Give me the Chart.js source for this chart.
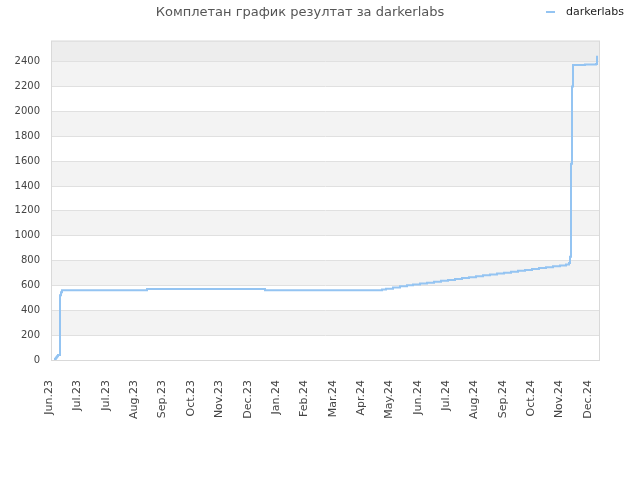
<!DOCTYPE html>
<html>
<head>
<meta charset="utf-8">
<script src="https://cdn.jsdelivr.net/npm/chart.js@4"></script>
<style>
  html, body { margin: 0; padding: 0; background: #fff; }
  #wrap { width: 640px; height: 480px; position: relative; }
</style>
</head>
<body>
<div id="wrap"><canvas id="chart"></canvas></div>
<script>
// naslov i serija
const TITLE = 'Комплетан график резултат за darkerlabs';
const SERIES = 'darkerlabs';

// x = dan od početka perioda, y = rezultat
const days = [3, 4, 5, 6, 7, 9, 10, 11, 96, 214,
  331, 335, 342, 349, 356, 362, 369, 376, 383, 390, 397, 404, 411, 418, 425,
  432, 439, 446, 453, 460, 467, 474, 481, 488, 495, 502, 509, 515,
  518, 519, 520, 521, 522, 534, 545, 546];
const scores = [0, 10, 20, 30, 40, 520, 545, 562, 571, 562,
  567, 574, 584, 594, 601, 608, 615, 622, 630, 637, 644, 652, 659, 666, 674,
  681, 688, 696, 703, 711, 718, 725, 732, 740, 747, 754, 761, 768,
  780, 830, 1580, 2200, 2373, 2377, 2382, 2448];

// oznake na x osi
const xTickDays = [-2, 26, 55, 83, 111, 140, 168, 197, 225, 253, 282, 310, 338, 367, 395, 423, 452, 480, 508, 537];
const xTickLabels = ['Jun.23', 'Jul.23', 'Jul.23', 'Aug.23', 'Sep.23', 'Oct.23', 'Nov.23', 'Dec.23',
  'Jan.24', 'Feb.24', 'Mar.24', 'Apr.24', 'May.24', 'Jun.24', 'Jul.24', 'Aug.24', 'Sep.24',
  'Oct.24', 'Nov.24', 'Dec.24'];
const X_MAX = 549;

// y osa
const yTicks = [0, 200, 400, 600, 800, 1000, 1200, 1400, 1600, 1800, 2000, 2200, 2400];
const Y_MAX = 2570;

const LINE = '#94c4f2';
const FONT = 'DejaVu Sans';

// pozadinske trake + okvir
const bands = {
  id: 'bands',
  beforeDraw(chart) {
    const { ctx, chartArea: a, scales: { y } } = chart;
    ctx.save();
    for (let i = 0; i < yTicks.length; i++) {
      const lo = y.getPixelForValue(yTicks[i]);
      const hi = y.getPixelForValue(i + 1 < yTicks.length ? yTicks[i + 1] : Y_MAX);
      if (i === yTicks.length - 1) ctx.fillStyle = '#ededed';
      else if (i % 2 === 1) ctx.fillStyle = '#f3f3f3';
      else continue;
      ctx.fillRect(a.left, hi, a.right - a.left, lo - hi);
    }
    ctx.restore();
  },
  beforeDatasetsDraw(chart) {
    const { ctx, chartArea: a } = chart;
    ctx.save();
    ctx.strokeStyle = '#d9d9d9';
    ctx.lineWidth = 1;
    ctx.strokeRect(a.left + 0.5, a.top + 0.5, a.right - a.left - 1, a.bottom - a.top);
    ctx.restore();
  }
};

// legenda gore desno, u istom redu kao naslov
const cornerLegend = {
  id: 'cornerLegend',
  afterDraw(chart) {
    const { ctx, width } = chart;
    const ds = chart.data.datasets[0];
    ctx.save();
    ctx.font = '11px "' + FONT + '"';
    ctx.textBaseline = 'middle';
    ctx.textAlign = 'right';
    ctx.fillStyle = '#222';
    const right = width - 16;
    const tw = ctx.measureText(ds.label).width;
    ctx.fillText(ds.label, right, 12);
    ctx.strokeStyle = ds.borderColor;
    ctx.lineWidth = 2;
    ctx.beginPath();
    ctx.moveTo(right - tw - 20, 12);
    ctx.lineTo(right - tw - 11, 12);
    ctx.stroke();
    ctx.restore();
  }
};

new Chart(document.getElementById('chart'), {
  type: 'line',
  data: {
    datasets: [{
      label: SERIES,
      data: days.map((d, i) => ({ x: d, y: scores[i] })),
      stepped: true,
      borderColor: LINE,
      backgroundColor: LINE,
      borderWidth: 2,
      pointRadius: 0,
      fill: false
    }]
  },
  plugins: [bands, cornerLegend],
  options: {
    responsive: true,
    maintainAspectRatio: false,
    devicePixelRatio: 1,
    animation: false,
    layout: { padding: { left: 0, right: 40, top: 0, bottom: 0 } },
    plugins: {
      legend: { display: false },
      tooltip: { enabled: false },
      title: {
        display: true,
        text: TITLE,
        color: '#555',
        font: { family: FONT, size: 13, weight: 'normal' },
        padding: { top: 5, bottom: 20 }
      }
    },
    scales: {
      x: {
        type: 'linear',
        min: 0,
        max: X_MAX,
        afterBuildTicks: s => { s.ticks = xTickDays.map(v => ({ value: v })); },
        afterFit: s => { s.height = 120; },
        grid: { display: false },
        border: { display: false },
        ticks: {
          autoSkip: false,
          maxRotation: 90,
          minRotation: 90,
          padding: 12,
          color: '#444',
          font: { family: FONT, size: 11 },
          callback: (v, i) => xTickLabels[i]
        }
      },
      y: {
        min: 0,
        max: Y_MAX,
        afterBuildTicks: s => { s.ticks = yTicks.map(v => ({ value: v })); },
        afterFit: s => { s.width = 51; },
        grid: { color: '#e0e0e0', drawTicks: false },
        border: { display: false },
        ticks: {
          padding: 11,
          color: '#444',
          font: { family: FONT, size: 10 },
          callback: v => String(v)
        }
      }
    }
  }
});
</script>
</body>
</html>
